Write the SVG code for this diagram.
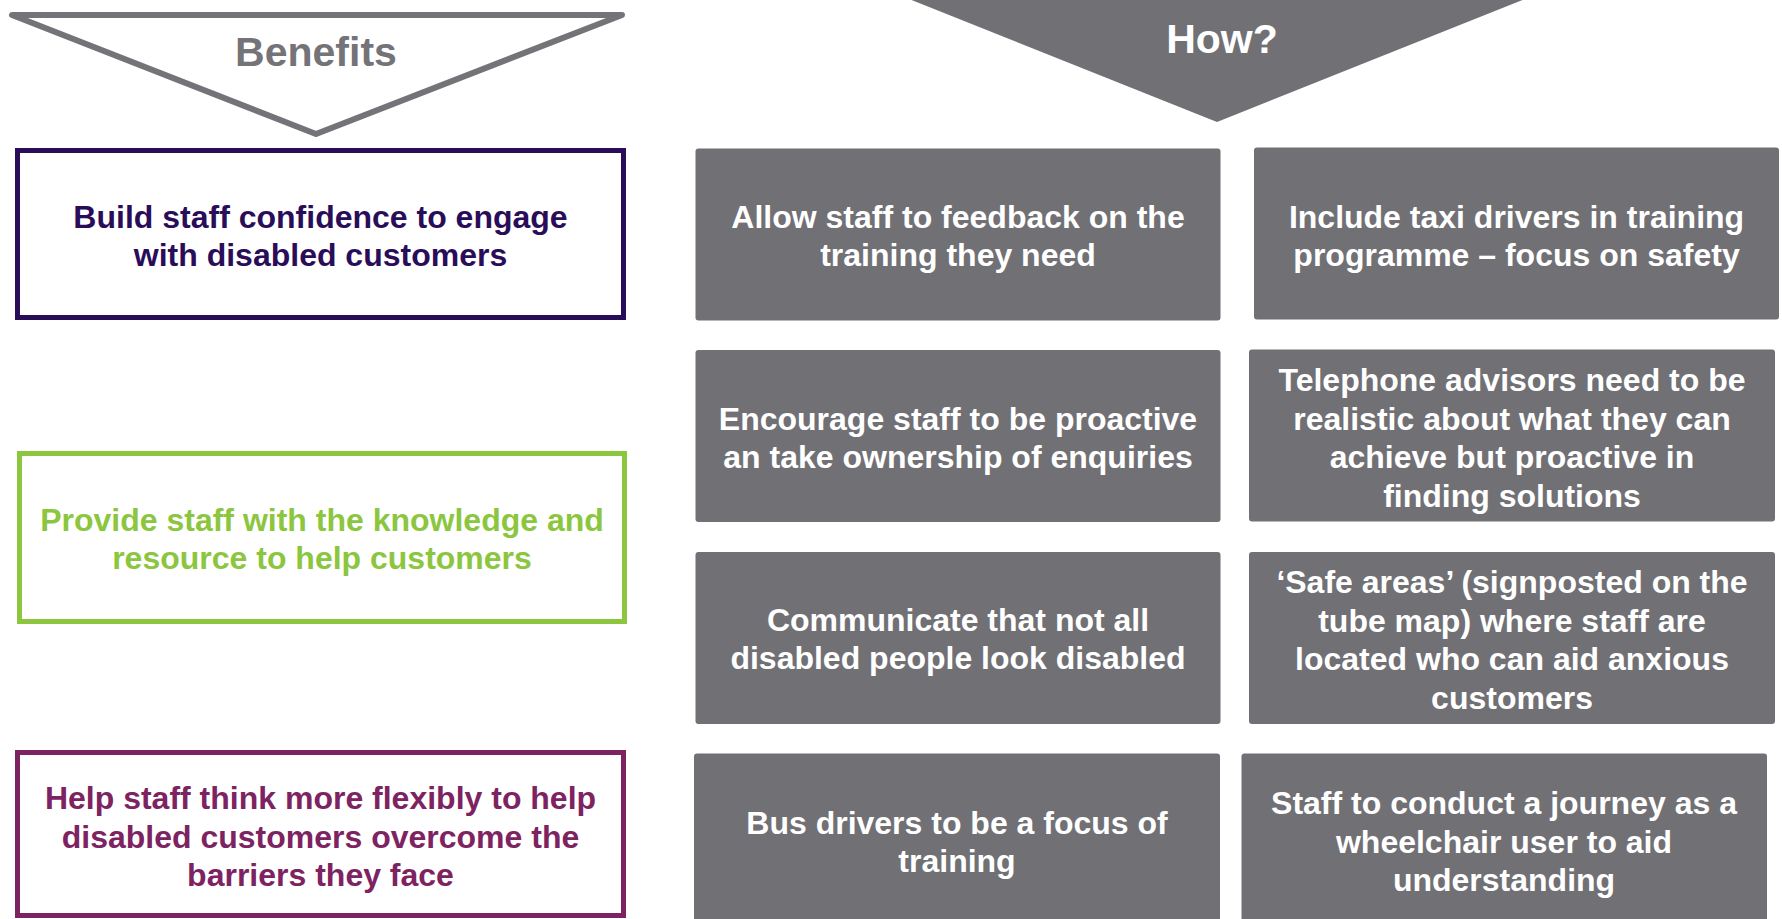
<svg xmlns="http://www.w3.org/2000/svg" width="1782" height="919" viewBox="0 0 1782 919">
<style>
  text { font-family: "Liberation Sans", Arial, sans-serif; font-weight: bold; text-anchor: middle; }
  .t32 { font-size: 32px; }
  .head { font-size: 41px; }
  .gbox { fill: #717075; }
  .wt { fill: #ffffff; }
  .benefit { fill: #ffffff; stroke-width: 5; }
</style>
<rect x="0" y="0" width="1782" height="919" fill="#ffffff"/>

<g id="benefits-header">
  <polygon points="12,15 622,15 316,134" fill="#ffffff" stroke="#747378" stroke-width="6" stroke-linejoin="round"/>
  <text class="head" x="316" y="66" fill="#747378">Benefits</text>
</g>

<g id="how-header">
  <polygon points="909,-1 1525,-1 1217,122" fill="#717075"/>
  <text class="head" x="1222" y="53" fill="#ffffff">How?</text>
</g>

<g id="benefit-1">
  <rect class="benefit" x="17.5" y="150.5" width="606" height="167" stroke="#2A0D59"/>
  <text class="t32" x="320.5" y="228" fill="#2A0D59">Build staff confidence to engage</text>
  <text class="t32" x="320.5" y="266" fill="#2A0D59">with disabled customers</text>
</g>

<g id="benefit-2">
  <rect class="benefit" x="19.5" y="453.5" width="605" height="168" stroke="#8CC63F"/>
  <text class="t32" x="322" y="531" fill="#8CC63F">Provide staff with the knowledge and</text>
  <text class="t32" x="322" y="569" fill="#8CC63F">resource to help customers</text>
</g>

<g id="benefit-3">
  <rect class="benefit" x="17.5" y="752.5" width="606" height="163" stroke="#7E2362"/>
  <text class="t32" x="320.5" y="809" fill="#7E2362">Help staff think more flexibly to help</text>
  <text class="t32" x="320.5" y="848" fill="#7E2362">disabled customers overcome the</text>
  <text class="t32" x="320.5" y="886" fill="#7E2362">barriers they face</text>
</g>

<g id="how-1">
  <rect class="gbox" x="695.5" y="148.5" width="525" height="172" rx="3"/>
  <text class="t32 wt" x="958" y="228">Allow staff to feedback on the</text>
  <text class="t32 wt" x="958" y="266">training they need</text>
</g>

<g id="how-2">
  <rect class="gbox" x="1254" y="147.5" width="525" height="172" rx="3"/>
  <text class="t32 wt" x="1516.5" y="228">Include taxi drivers in training</text>
  <text class="t32 wt" x="1516.5" y="266">programme – focus on safety</text>
</g>

<g id="how-3">
  <rect class="gbox" x="695.5" y="350" width="525" height="172" rx="3"/>
  <text class="t32 wt" x="958" y="430">Encourage staff to be proactive</text>
  <text class="t32 wt" x="958" y="468">an take ownership of enquiries</text>
</g>

<g id="how-4">
  <rect class="gbox" x="1249" y="349.5" width="526" height="172" rx="3"/>
  <text class="t32 wt" x="1512" y="391">Telephone advisors need to be</text>
  <text class="t32 wt" x="1512" y="429.5">realistic about what they can</text>
  <text class="t32 wt" x="1512" y="468">achieve but proactive in</text>
  <text class="t32 wt" x="1512" y="506.5">finding solutions</text>
</g>

<g id="how-5">
  <rect class="gbox" x="695.5" y="552" width="525" height="172" rx="3"/>
  <text class="t32 wt" x="958" y="631">Communicate that not all</text>
  <text class="t32 wt" x="958" y="669">disabled people look disabled</text>
</g>

<g id="how-6">
  <rect class="gbox" x="1249" y="552" width="526" height="172" rx="3"/>
  <text class="t32 wt" x="1512" y="593">‘Safe areas’ (signposted on the</text>
  <text class="t32 wt" x="1512" y="631.5">tube map) where staff are</text>
  <text class="t32 wt" x="1512" y="670">located who can aid anxious</text>
  <text class="t32 wt" x="1512" y="708.5">customers</text>
</g>

<g id="how-7">
  <rect class="gbox" x="694" y="753.5" width="526" height="172" rx="3"/>
  <text class="t32 wt" x="957" y="834">Bus drivers to be a focus of</text>
  <text class="t32 wt" x="957" y="872">training</text>
</g>

<g id="how-8">
  <rect class="gbox" x="1241.5" y="753.5" width="525.5" height="172" rx="3"/>
  <text class="t32 wt" x="1504" y="814">Staff to conduct a journey as a</text>
  <text class="t32 wt" x="1504" y="852.5">wheelchair user to aid</text>
  <text class="t32 wt" x="1504" y="891">understanding</text>
</g>

<g id="connectors"></g>
</svg>
